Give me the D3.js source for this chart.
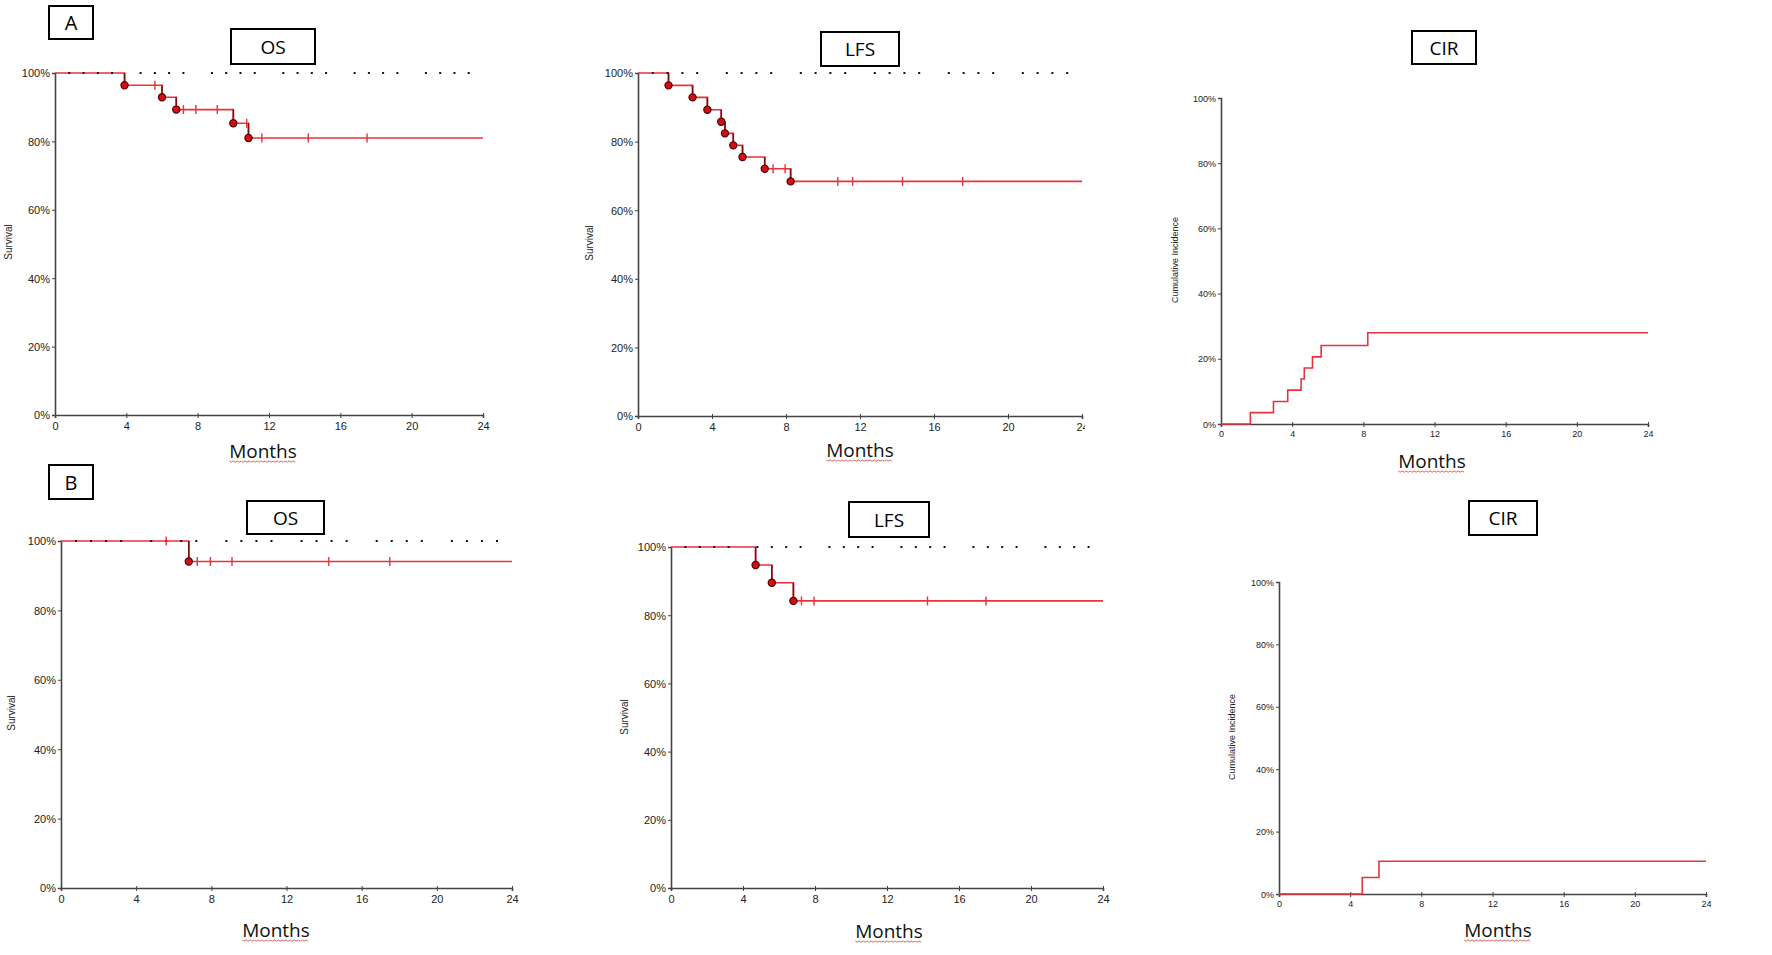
<!DOCTYPE html>
<html>
<head>
<meta charset="utf-8">
<script src="https://cdn.jsdelivr.net/npm/d3@7"></script>
<style>
  body { margin: 0; background: #fff; }
  svg { display: block; }
</style>
</head>
<body>
<div id="chart"></div>
<script>
// values: months and percent
const monthTicks = [0, 4, 8, 12, 16, 20, 24];
const pctTicks = [0, 20, 40, 60, 80, 100];

const osA_times = [0, 3.9, 6.0, 6.8, 10.0, 10.85];
const osA_surv = [100, 96.4, 92.9, 89.3, 85.3, 81.0];
const osA_censored = [5.6, 7.2, 7.9, 9.1, 10.75, 11.6, 14.2, 17.5];

const lfsA_times = [0, 1.65, 2.95, 3.75, 4.5, 4.7, 5.15, 5.65, 6.85, 8.25];
const lfsA_surv = [100, 96.4, 92.9, 89.3, 85.8, 82.4, 78.9, 75.5, 72.1, 68.4];
const lfsA_censored = [7.3, 7.95, 10.8, 11.6, 14.3, 17.55];

const cirA_times = [0, 1.65, 2.95, 3.75, 4.5, 4.68, 5.14, 5.63, 8.25];
const cirA_inc = [0, 3.5, 6.9, 10.4, 13.8, 17.2, 20.6, 24.1, 28.0];

const osB_times = [0, 6.8];
const osB_surv = [100, 94.1];
const osB_censored = [5.6, 7.25, 7.95, 9.1, 14.25, 17.5];

const lfsB_times = [0, 4.7, 5.6, 6.8];
const lfsB_surv = [100, 94.7, 89.5, 84.2];
const lfsB_censored = [7.25, 7.95, 14.25, 17.5];

const cirB_times = [0, 4.68, 5.62];
const cirB_inc = [0, 5.3, 10.5];

const groupLabels = ['A', 'B'];

// panel geometry (pixels)
const panels = [
  { title: 'OS', kind: 'surv', times: osA_times, vals: osA_surv, cens: osA_censored,
    x0: 55, x1: 483, y0: 415, y1: 73, box: [231, 29, 84, 35], months: [263, 458], ylab: 'Survival', ylx: 8, yly: 242 },
  { title: 'LFS', kind: 'surv', times: lfsA_times, vals: lfsA_surv, cens: lfsA_censored,
    x0: 638, x1: 1082, y0: 416, y1: 73, box: [821, 32, 78, 34], months: [860, 457], ylab: 'Survival', ylx: 589, yly: 243, clipRight: 1085 },
  { title: 'CIR', kind: 'cir', times: cirA_times, vals: cirA_inc, cens: [],
    x0: 1221, x1: 1648, y0: 424, y1: 98, box: [1412, 31, 64, 33], months: [1432, 468], ylab: 'Cumulative Incidence', ylx: 1175, yly: 260 },
  { title: 'OS', kind: 'surv', times: osB_times, vals: osB_surv, cens: osB_censored,
    x0: 61, x1: 512, y0: 888, y1: 541, box: [247, 501, 77, 33], months: [276, 937], ylab: 'Survival', ylx: 11, yly: 713 },
  { title: 'LFS', kind: 'surv', times: lfsB_times, vals: lfsB_surv, cens: lfsB_censored,
    x0: 671, x1: 1103, y0: 888, y1: 547, box: [849, 502, 80, 35], months: [889, 938], ylab: 'Survival', ylx: 624, yly: 717 },
  { title: 'CIR', kind: 'cir', times: cirB_times, vals: cirB_inc, cens: [],
    x0: 1279, x1: 1706, y0: 894, y1: 582, box: [1469, 501, 68, 34], months: [1498, 937], ylab: 'Cumulative Incidence', ylx: 1232, yly: 737 }
];
const groupBoxes = [[49, 6, 44, 33], [49, 465, 44, 34]];

const W = 1772, H = 955;
const red = '#e8333c', darkRed = '#7a1212';

const svg = d3.select('#chart').append('svg')
  .attr('width', W).attr('height', H);

// title box helper
function labelBox(x, y, w, h, text, size) {
  svg.append('rect')
    .attr('x', x).attr('y', y).attr('width', w).attr('height', h)
    .attr('fill', '#fff').attr('stroke', '#000').attr('stroke-width', 2);
  svg.append('text')
    .attr('x', x + w / 2).attr('y', y + h / 2)
    .attr('text-anchor', 'middle').attr('dominant-baseline', 'central')
    .style('font-family', '"Open Sans", "Noto Sans", sans-serif')
    .style('font-size', size + 'px')
    .text(text);
}

groupBoxes.forEach((b, i) => labelBox(b[0], b[1], b[2], b[3], groupLabels[i], 20));

panels.forEach((p, idx) => {
  const x = d3.scaleLinear().domain([0, 24]).range([p.x0, p.x1]);
  const y = d3.scaleLinear().domain([0, 100]).range([p.y0, p.y1]);
  const small = p.kind === 'cir';
  const tickFont = small ? 9 : 11;

  let g = svg.append('g');
  if (p.clipRight) {
    svg.append('clipPath').attr('id', 'clip' + idx)
      .append('rect').attr('x', 0).attr('y', 0).attr('width', p.clipRight).attr('height', H);
    g.attr('clip-path', `url(#clip${idx})`);
  }

  // axes
  const xAxis = d3.axisBottom(x).tickValues(monthTicks).tickSize(3).tickPadding(4).tickFormat(d3.format('d'));
  const yAxis = d3.axisLeft(y).tickValues(pctTicks).tickSize(3).tickPadding(2).tickFormat(d => d + '%');

  const gx = g.append('g').attr('transform', `translate(0,${p.y0})`).call(xAxis);
  const gy = g.append('g').attr('transform', `translate(${p.x0},0)`).call(yAxis);
  [gx, gy].forEach(a => {
    a.select('.domain').attr('stroke', '#444').attr('stroke-width', 1.6);
    a.selectAll('.tick line').attr('stroke', '#444');
    a.selectAll('.tick text')
      .attr('fill', '#222')
      .style('font-family', '"Liberation Sans Narrow", "Liberation Sans", Arial, sans-serif')
      .style('font-size', tickFont + 'px');
  });
  gx.selectAll('.tick line').attr('y1', -2);
  gy.selectAll('.tick text').attr('dy', '0.35em');

  // step curve
  const pts = p.times.map((t, i) => [t, p.vals[i]]);
  pts.push([24, p.vals[p.vals.length - 1]]);
  g.append('path').datum(pts)
    .attr('d', d3.line().x(d => x(d[0])).y(d => y(d[1])).curve(d3.curveStepAfter))
    .attr('fill', 'none').attr('stroke', red).attr('stroke-width', 1.6);

  if (p.kind === 'surv') {
    // dotted reference line at 100%
    const dots = d3.range(1, 30).map(k => k * 0.8).filter(t => t < 24 && Math.abs(t / 4 - Math.round(t / 4)) > 0.01);
    g.selectAll('.dot100').data(dots).join('rect')
      .attr('x', d => x(d) - 1).attr('y', y(100) - 1)
      .attr('width', 2).attr('height', 2).attr('fill', '#111');

    // darker vertical drops
    const drops = p.times.slice(1).map((t, i) => ({ t, from: p.vals[i], to: p.vals[i + 1] }));
    g.selectAll('.drop').data(drops).join('line')
      .attr('x1', d => x(d.t)).attr('x2', d => x(d.t))
      .attr('y1', d => y(d.from)).attr('y2', d => y(d.to))
      .attr('stroke', darkRed).attr('stroke-width', 1.6);

    // censor marks
    const level = t => {
      let v = p.vals[0];
      p.times.forEach((tt, i) => { if (tt <= t) v = p.vals[i]; });
      return v;
    };
    g.selectAll('.cens').data(p.cens).join('line')
      .attr('x1', d => x(d)).attr('x2', d => x(d))
      .attr('y1', d => y(level(d)) - 4.5).attr('y2', d => y(level(d)) + 4.5)
      .attr('stroke', red).attr('stroke-width', 1.4);

    // event markers
    g.selectAll('.evt').data(drops).join('circle')
      .attr('cx', d => x(d.t)).attr('cy', d => y(d.to)).attr('r', 3.6)
      .attr('fill', '#d60d12').attr('stroke', '#4a0505').attr('stroke-width', 1.2);
  }

  // y label
  svg.append('text')
    .attr('transform', `translate(${p.ylx},${p.yly}) rotate(-90)`)
    .attr('text-anchor', 'middle').attr('dominant-baseline', 'central')
    .style('font-family', '"Liberation Sans", Arial, sans-serif')
    .style('font-size', small ? '9px' : '10px')
    .attr('fill', '#222')
    .text(p.ylab);

  // x label with spell-check squiggle
  const mt = svg.append('text')
    .attr('x', p.months[0]).attr('y', p.months[1])
    .attr('text-anchor', 'middle')
    .style('font-family', '"Open Sans", "Noto Sans", sans-serif')
    .style('font-size', '19px')
    .attr('fill', '#111')
    .text('Months');
  const tw = mt.node().getComputedTextLength();
  const sx = p.months[0] - tw / 2, sy = p.months[1] + 3;
  const wave = d3.range(0, Math.floor(tw / 2) + 1).map(k => [sx + k * 2, sy + (k % 2 ? 1.2 : 0)]);
  svg.append('path').attr('d', d3.line()(wave))
    .attr('fill', 'none').attr('stroke', '#e05050').attr('stroke-width', 0.9);

  labelBox(p.box[0], p.box[1], p.box[2], p.box[3], p.title, 19);
});
</script>
</body>
</html>
